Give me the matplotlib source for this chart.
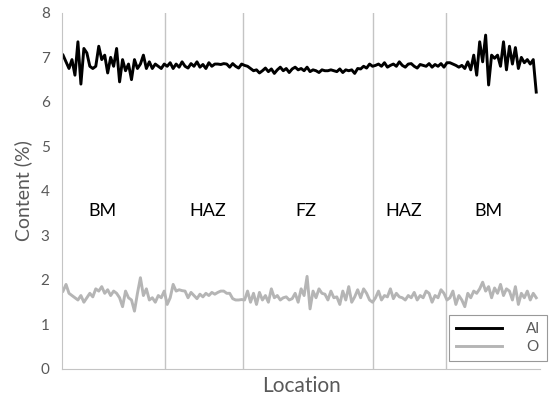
import matplotlib
matplotlib.use('Agg')
import matplotlib.pyplot as plt
import numpy as np

plt.rcParams['font.family'] = ['Lato', 'DejaVu Sans']

# Al content (%) along the weld: BM | HAZ | FZ | HAZ | BM
al_bm1 = [7.05, 6.9, 6.75, 6.95, 6.6, 7.35, 6.4, 7.2, 7.1, 6.8,
          6.75, 6.8, 7.25, 6.95, 7.05, 6.65, 7.0, 6.8, 7.2, 6.45,
          6.95, 6.7, 6.85, 6.5, 6.95, 6.75, 6.85, 7.05, 6.75, 6.9,
          6.75, 6.85, 6.8, 6.75, 6.85]
al_haz1 = [6.8, 6.88, 6.75, 6.85, 6.78, 6.9, 6.8, 6.76, 6.86, 6.8,
           6.9, 6.78, 6.84, 6.75, 6.88, 6.8, 6.85, 6.85, 6.84, 6.86,
           6.85, 6.78, 6.86, 6.8, 6.76, 6.85]
al_fz = [6.82, 6.8, 6.75, 6.7, 6.72, 6.65, 6.7, 6.76, 6.68, 6.74,
         6.64, 6.72, 6.78, 6.7, 6.75, 6.66, 6.74, 6.78, 6.72, 6.75,
         6.7, 6.78, 6.68, 6.72, 6.7, 6.66, 6.72, 6.7, 6.7, 6.72,
         6.7, 6.68, 6.74, 6.66, 6.72, 6.7, 6.72, 6.64, 6.75, 6.74,
         6.8, 6.76, 6.85, 6.8]
al_haz2 = [6.82, 6.85, 6.8, 6.88, 6.78, 6.82, 6.85, 6.8, 6.9, 6.82,
           6.78, 6.85, 6.86, 6.8, 6.76, 6.84, 6.82, 6.8, 6.86, 6.78,
           6.84, 6.8, 6.86, 6.78, 6.88]
al_bm2 = [6.88, 6.85, 6.82, 6.78, 6.82, 6.75, 6.9, 6.72, 7.05, 6.6,
          7.35, 6.9, 7.5, 6.38, 7.05, 6.98, 7.05, 6.8, 7.35, 6.72,
          7.25, 6.85, 7.22, 6.75, 7.0, 6.88, 6.95, 6.85, 6.95, 6.22]

# O content (%)
o_bm1 = [1.75, 1.9, 1.7, 1.65, 1.6, 1.55, 1.65, 1.5, 1.6, 1.7,
         1.62, 1.8, 1.75, 1.85, 1.7, 1.78, 1.65, 1.75, 1.7, 1.6,
         1.4, 1.75, 1.6, 1.55, 1.3, 1.7, 2.05, 1.65, 1.8, 1.55,
         1.6, 1.5, 1.65, 1.6, 1.75]
o_haz1 = [1.45, 1.6, 1.9, 1.75, 1.78, 1.76, 1.75, 1.6, 1.72, 1.65,
          1.58, 1.68, 1.62, 1.7, 1.65, 1.72, 1.68, 1.72, 1.75, 1.75,
          1.7, 1.7, 1.58, 1.55, 1.55, 1.56]
o_fz = [1.55, 1.75, 1.5, 1.7, 1.45, 1.72, 1.55, 1.65, 1.5, 1.8,
        1.6, 1.65, 1.55, 1.6, 1.62, 1.55, 1.58, 1.7, 1.5, 1.8,
        1.65, 2.08, 1.35, 1.75, 1.6, 1.8, 1.7, 1.68, 1.55, 1.75,
        1.6, 1.62, 1.45, 1.75, 1.55, 1.85, 1.5, 1.62, 1.78, 1.6,
        1.8, 1.7, 1.55, 1.5]
o_haz2 = [1.6, 1.75, 1.55, 1.65, 1.62, 1.8, 1.58, 1.7, 1.62, 1.6,
          1.55, 1.65, 1.6, 1.72, 1.55, 1.65, 1.6, 1.75, 1.7, 1.5,
          1.65, 1.6, 1.78, 1.7, 1.55]
o_bm2 = [1.6, 1.75, 1.45, 1.65, 1.55, 1.4, 1.7, 1.6, 1.75, 1.7,
         1.8, 1.95, 1.75, 1.85, 1.6, 1.82, 1.7, 1.9, 1.65, 1.8,
         1.75, 1.55, 1.85, 1.45, 1.7, 1.6, 1.75, 1.55, 1.7, 1.6]

al = al_bm1 + al_haz1 + al_fz + al_haz2 + al_bm2
o = o_bm1 + o_haz1 + o_fz + o_haz2 + o_bm2

# zone boundaries (in point index) and zone labels
boundaries = [34.3, 60.5, 104.2, 128.7]
zone_names = ['BM', 'HAZ', 'FZ', 'HAZ', 'BM']
zone_centers = [13.4, 48.7, 81.7, 114.6, 142.9]
zone_label_y = 3.55

grey = '#595959'

fig = plt.figure(figsize=(5.5, 4.07), dpi=100)
ax = fig.add_axes([0.113, 0.0934, 0.869, 0.875])

x_al = np.arange(len(al))
x_o = np.arange(len(o))
ax.plot(x_al, al, color='black', lw=2.1, label='Al', solid_joinstyle='round')
ax.plot(x_o, o, color='#b5b5b5', lw=2.1, label='O', solid_joinstyle='round')

for b in boundaries:
    ax.axvline(b, color='#c4c4c4', lw=1, zorder=0)

for name, xc in zip(zone_names, zone_centers):
    ax.text(xc, zone_label_y, name, ha='center', va='center', fontsize=13, color='black')

ax.set_xlim(-0.3, len(al) + 0.3)
ax.set_ylim(0, 8)
ax.set_yticks(range(0, 9))
ax.set_xticks([])
ax.tick_params(axis='y', length=0, labelsize=11, labelcolor=grey, pad=9)

for s in ['top', 'right']:
    ax.spines[s].set_visible(False)
ax.spines['left'].set_color('#c4c4c4')
ax.spines['bottom'].set_color('#c4c4c4')

ax.set_ylabel('Content (%)', fontsize=14, color=grey, labelpad=6)
ax.set_xlabel('Location', fontsize=15, color=grey, labelpad=5)

leg = fig.legend(loc='upper right', bbox_to_anchor=(0.995, 0.226), fontsize=11,
                 fancybox=False, edgecolor='#999999', framealpha=1,
                 handlelength=3.0, labelspacing=0.3, borderpad=0.45,
                 handletextpad=1.6, borderaxespad=0)
for t in leg.get_texts():
    t.set_color(grey)
leg.get_frame().set_linewidth(0.8)

fig.savefig('out.png', dpi=100)
